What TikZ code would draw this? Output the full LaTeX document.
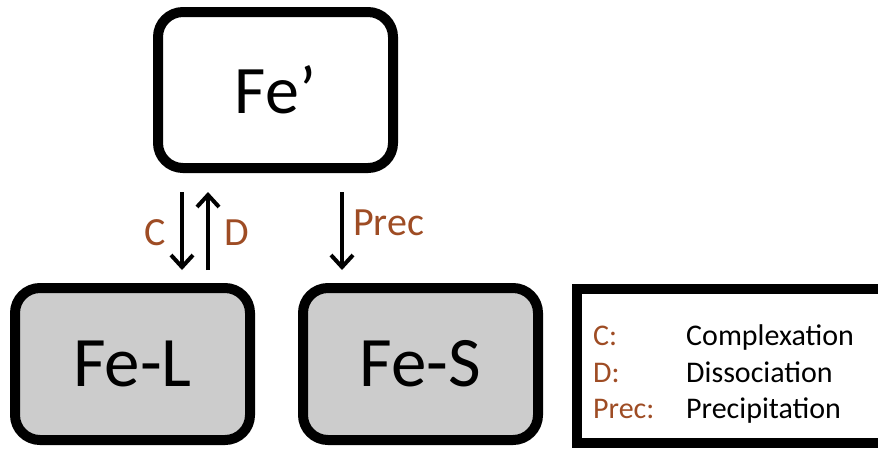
\documentclass[tikz,border=0pt]{standalone}
\usepackage{fontspec}
\setmainfont{Carlito}
\usetikzlibrary{arrows.meta}
\definecolor{labelbrown}{RGB}{158,76,36}
\definecolor{boxgray}{RGB}{204,204,204}
\tikzset{
  species/.style={draw=black, line width=10pt, rounded corners=25pt,
    minimum width=235pt, inner sep=0pt},
  reaction/.style={line width=4pt, -{Straight Barb[length=12pt,width=22pt,line width=4pt]}},
  rlabel/.style={text=labelbrown, font=\fontsize{40}{44}\selectfont, inner sep=0pt},
  keytxt/.style={anchor=base west, inner sep=0pt, font=\fontsize{30}{34}\selectfont}
}
\begin{document}
\begin{tikzpicture}[x=1pt,y=-1pt]
\useasboundingbox (0,0) rectangle (878,450);
\begin{scope}
\clip (0,0) rectangle (878,450);
% species boxes
\node[species, fill=white, minimum height=156pt, font=\fontsize{68}{72}\selectfont] (fep) at (275.5,90) {\raisebox{-5pt}{Fe’}};
\node[species, fill=boxgray, minimum height=152pt, font=\fontsize{71}{75}\selectfont] (fel) at (132.5,364) {\raisebox{-9pt}{Fe-L}};
\node[species, fill=boxgray, minimum height=152pt, font=\fontsize{71}{75}\selectfont] (fes) at (420.5,364) {\raisebox{-9pt}{Fe-S}};
% legend frame
\node[draw=black, line width=10pt, minimum width=340pt, minimum height=154pt, inner sep=0pt] (key) at (747,366) {};
\end{scope}
% reactions
\draw[reaction] ([xshift=-93.5pt,yshift=-19pt]fep.south) -- ([xshift=49.5pt,yshift=13pt]fel.north);
\draw[reaction] ([xshift=75.5pt,yshift=13pt]fel.north) -- ([xshift=-67.5pt,yshift=-19pt]fep.south);
\draw[reaction] ([xshift=66.5pt,yshift=-19pt]fep.south) -- ([xshift=-78.5pt,yshift=13pt]fes.north);
% reaction labels
\node[rlabel, anchor=base west] (lc) at (144,245) {C};
\node[rlabel, anchor=base west] (ld) at (224,245) {D};
\node[rlabel, anchor=base west] (lp) at (353,235) {Prec};
% legend entries
\node[keytxt, text=labelbrown] (k1) at (593,345) {C:};
\node[keytxt, text=labelbrown] (k2) at (593,382) {D:};
\node[keytxt, text=labelbrown] (k3) at (593,418) {Prec:};
\node[keytxt] (t1) at (686,345) {Complexation};
\node[keytxt] (t2) at (686,382) {Dissociation};
\node[keytxt] (t3) at (686,418) {Precipitation};
\end{tikzpicture}
\end{document}
